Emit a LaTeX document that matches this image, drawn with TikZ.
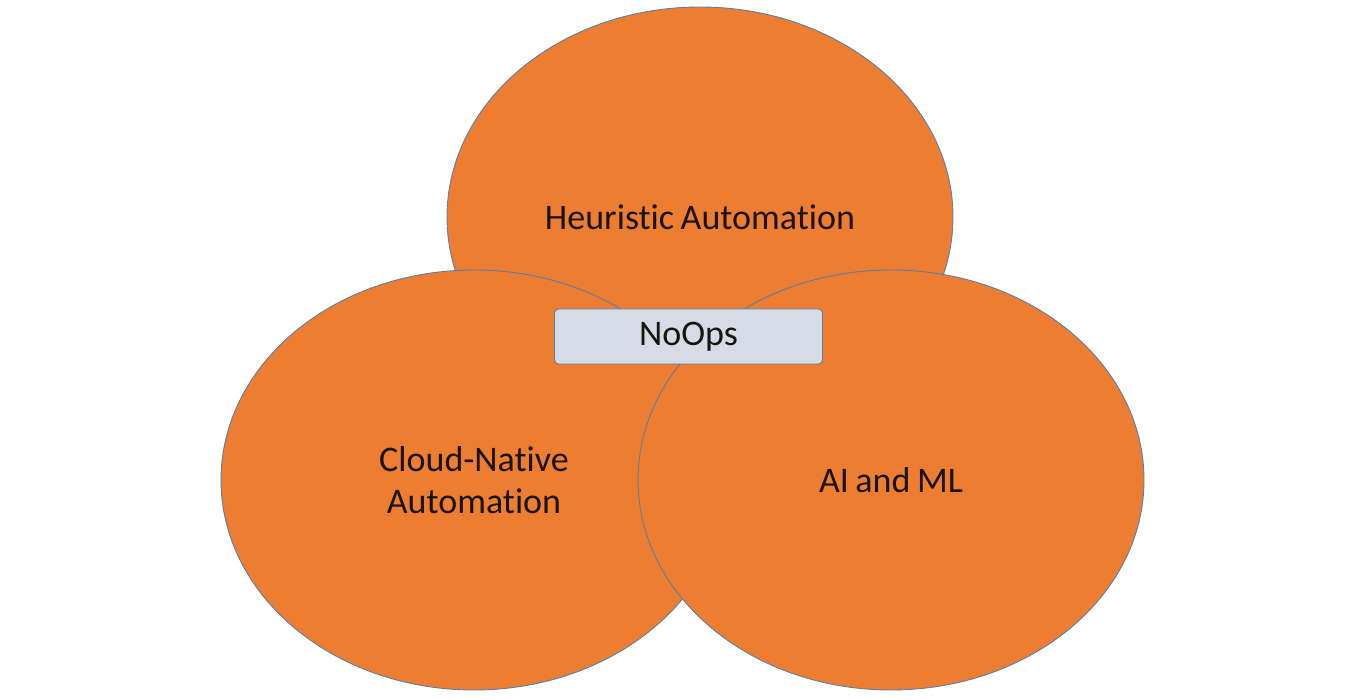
\documentclass[tikz,border=0pt]{standalone}
\usepackage{fontspec}
\setmainfont{Carlito}[Ligatures=NoCommon,WordSpace=0.8]
\usetikzlibrary{shapes}
\definecolor{orange1}{HTML}{ED7D31}
\definecolor{edge1}{HTML}{5B7FAD}
\definecolor{gray1}{HTML}{D6DCE5}
\definecolor{ink1}{HTML}{1A1410}
\tikzset{set/.style={draw=edge1,line width=0.9pt,ellipse,fill=orange1,text=ink1,inner sep=0pt,align=center,minimum width=506pt,minimum height=420pt}}
\tikzset{box/.style={draw=edge1,line width=0.9pt,fill=gray1,text=ink1,rounded corners=4pt,minimum width=268pt,minimum height=55pt}}

\begin{document}
\begin{tikzpicture}[x=1pt,y=1pt,every node/.style={font=\fontsize{36}{42}\selectfont}]
            \useasboundingbox (0,0) rectangle (1369,699);
            \node[set] (heur) at (700,482) {Heuristic Automation};
            \node[set] (cloud) at (474,219) {Cloud-Native\\Automation};
            \node[set] (aiml) at (891,219) {AI and ML};
            \node[box] (noops) at (688.5,362.5) {NoOps};
            \end{tikzpicture}
\end{document}
